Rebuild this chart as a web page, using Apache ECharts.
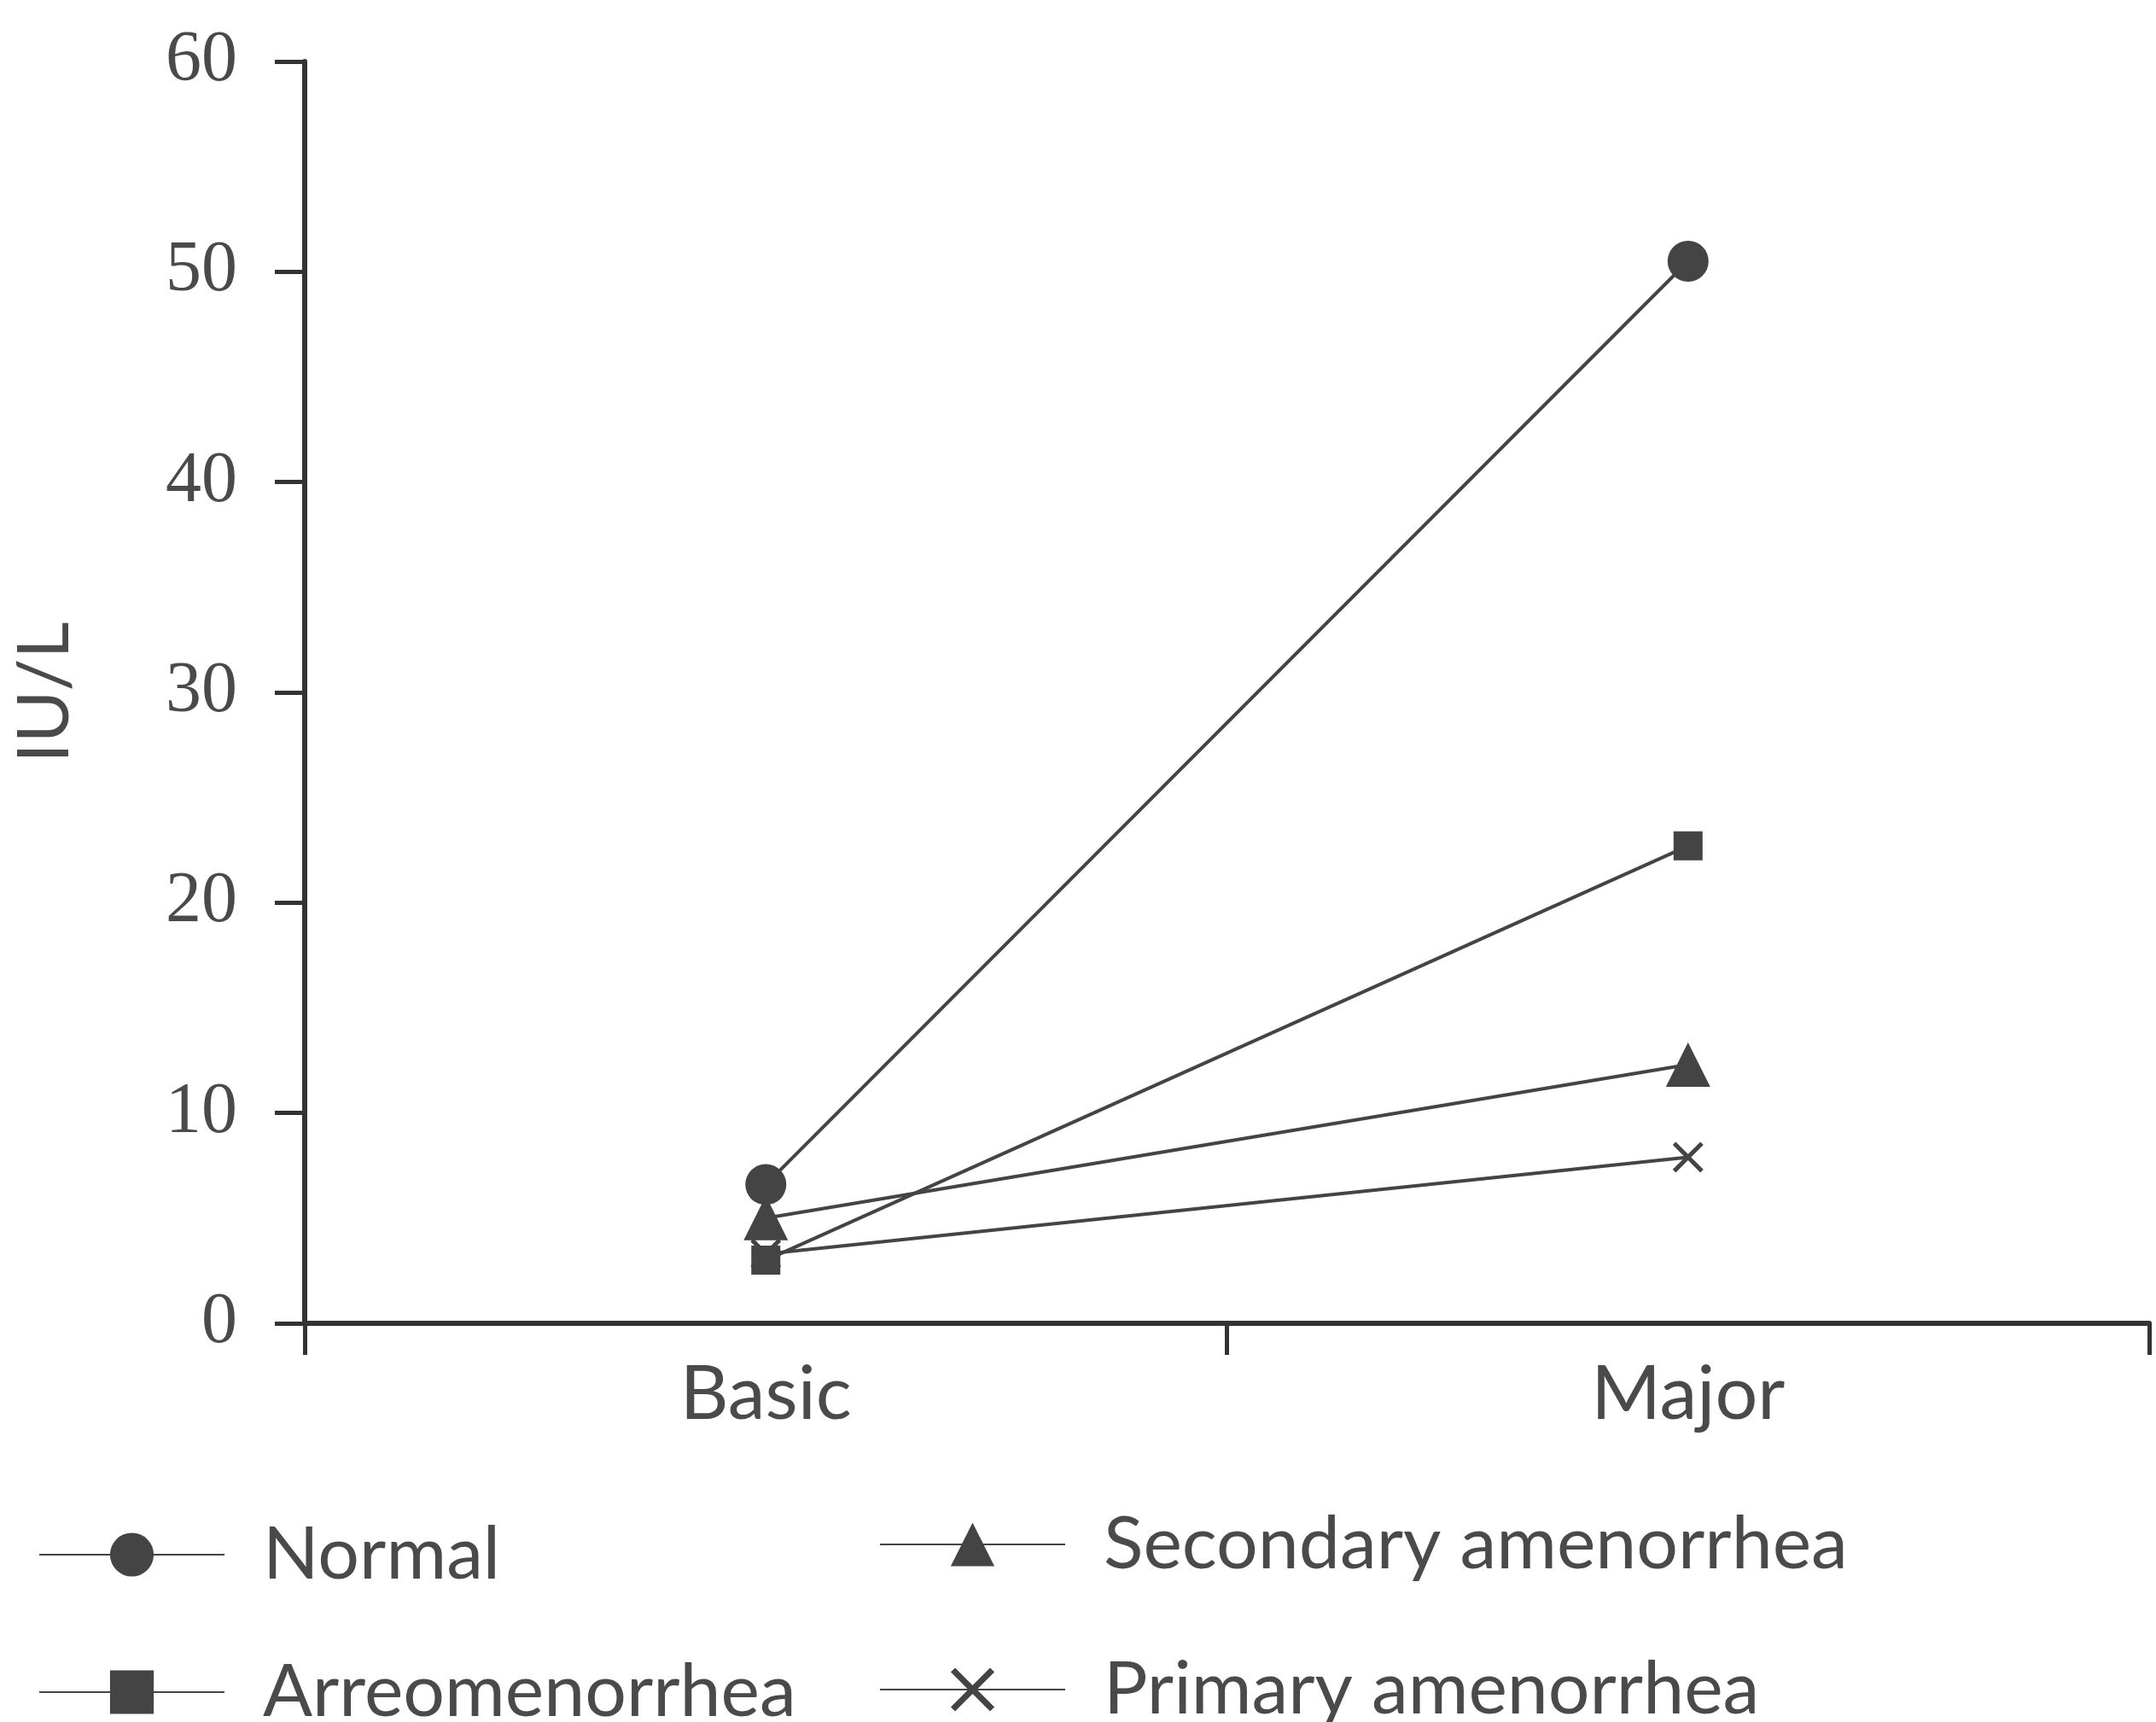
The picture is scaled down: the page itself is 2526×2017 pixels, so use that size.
<!DOCTYPE html>
<html>
<head>
<meta charset="utf-8">
<script src="https://cdn.jsdelivr.net/npm/echarts@6/dist/echarts.min.js"></script>
<style>
html,body{margin:0;padding:0;background:#fff;}
#chart{width:2526px;height:2017px;}
</style>
</head>
<body>
<div id="chart"></div>
<script>
var categories = ['Basic', 'Major'];
var normal = [6.6, 50.5];
var arreomenorrhea = [3.0, 22.7];
var secondary = [5.0, 12.3];
var primary = [3.3, 7.9];
var yTicks = {min: 0, max: 60, interval: 10};

var INK = '#444';
var TXT = '#4a4a4a';
var FONT = 'Lato, "Open Sans", sans-serif';
var NUMFONT = '"Liberation Serif", "DejaVu Serif", serif';
var crossPath = 'path://M0,1 L1,0 L5,4 L9,0 L10,1 L6,5 L10,9 L9,10 L5,6 L1,10 L0,9 L4,5 Z';

function mk(name, data, symbol, size) {
  return {
    name: name, type: 'line', data: data,
    symbol: symbol, symbolSize: size,
    lineStyle: {color: INK, width: 4},
    itemStyle: {color: INK},
    emphasis: {disabled: true},
    animation: false
  };
}

function lg(name, left, top) {
  return {
    data: [name], orient: 'horizontal',
    left: left, top: top, itemWidth: 217, itemHeight: 64,
    textStyle: {fontFamily: FONT, fontSize: 86, color: TXT, padding: [0, 0, 0, 40]},
    selectedMode: false
  };
}

var chart = echarts.init(document.getElementById('chart'));
chart.setOption({
  backgroundColor: '#fff',
  animation: false,
  grid: {left: 357, right: 8, top: 72, bottom: 467, containLabel: false},
  legend: [
    lg('Normal', 40, 1773),
    lg('Arreomenorrhea', 40, 1934),
    lg('Secondary amenorrhea', 1025, 1761),
    lg('Primary amenorrhea', 1025, 1931)
  ],
  xAxis: {
    type: 'category', data: categories, boundaryGap: true,
    axisLine: {lineStyle: {color: '#333', width: 6}},
    axisTick: {show: true, length: 37, lineStyle: {color: '#333', width: 5}},
    axisLabel: {fontFamily: FONT, fontSize: 88, color: TXT, margin: 40}
  },
  yAxis: {
    type: 'value', min: yTicks.min, max: yTicks.max, interval: yTicks.interval,
    name: 'IU/L', nameLocation: 'middle', nameRotate: 90, nameGap: 262,
    nameTextStyle: {fontFamily: FONT, fontSize: 84, color: TXT},
    axisLine: {show: true, lineStyle: {color: '#333', width: 6}},
    axisTick: {show: true, length: 35, lineStyle: {color: '#333', width: 5}},
    axisLabel: {fontFamily: NUMFONT, fontSize: 84, color: TXT, margin: 79},
    splitLine: {show: false}
  },
  series: [
    mk('Normal', normal, 'circle', 48),
    mk('Arreomenorrhea', arreomenorrhea, 'rect', 34),
    mk('Secondary amenorrhea', secondary, 'triangle', 52),
    mk('Primary amenorrhea', primary, crossPath, 36)
  ]
});
</script>
</body>
</html>
